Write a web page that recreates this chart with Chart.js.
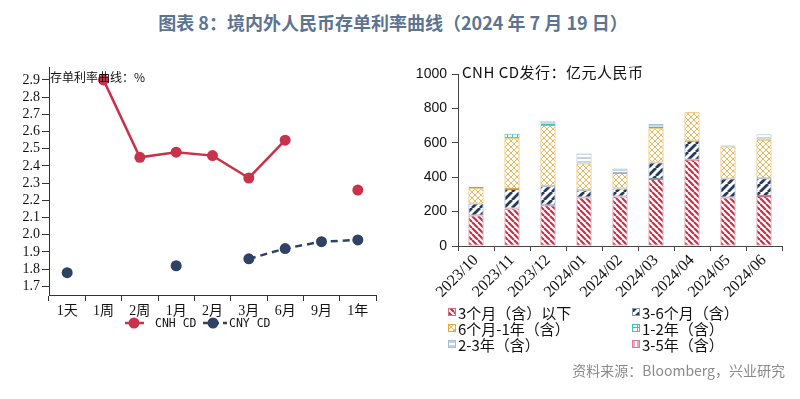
<!DOCTYPE html>
<html><head><meta charset="utf-8">
<script src="https://cdn.jsdelivr.net/npm/chart.js@4.4.1/dist/chart.umd.min.js"></script>
<style>
html,body{margin:0;padding:0;background:#fff;width:800px;height:399px;overflow:hidden;position:relative;}
#title{position:absolute;left:0;top:9px;width:786px;text-align:center;font:bold 18px "Noto Sans CJK SC";color:#5d7392;white-space:nowrap;}
#c1{position:absolute;left:0;top:0;}
#c2{position:absolute;left:400px;top:0;}
.note{position:absolute;white-space:nowrap;color:#111;font-family:"Noto Sans CJK SC";line-height:1;}
</style></head><body>
<div id="title">图表 8：境内外人民币存单利率曲线（2024 年 7 月 19 日）</div>
<canvas id="c1" width="400" height="340"></canvas>
<canvas id="c2" width="400" height="399"></canvas>
<div class="note" style="left:50px;top:71px;font-size:12px;">存单利率曲线：%</div>
<div class="note" style="left:462px;top:64px;font-size:15px;letter-spacing:0.5px;">CNH CD发行：亿元人民币</div>
<div class="note" style="right:15px;top:363px;font-size:14px;color:#8a8a8a;">资料来源：Bloomberg，兴业研究</div>
<script>
// ---- Left chart data ----
const tenors = ['1天','1周','2周','1月','2月','3月','6月','9月','1年'];
const cnhCD = [null, 2.90, 2.45, 2.48, 2.46, 2.33, 2.55, null, 2.26];
const cnyCD = [1.78, null, null, 1.82, null, 1.86, 1.92, 1.96, 1.97];
const rateTicks = [1.7,1.8,1.9,2.0,2.1,2.2,2.3,2.4,2.5,2.6,2.7,2.8,2.9];
const lineNames = ['CNH CD','CNY CD'];

// ---- Right chart data ----
const months = ['2023/10','2023/11','2023/12','2024/01','2024/02','2024/03','2024/04','2024/05','2024/06'];
const le3m   = [178, 218, 237, 282, 288, 390, 502, 282, 290];
const m3to6  = [69, 114, 110, 42, 46, 96, 110, 110, 104];
const m6to1y = [89, 295, 356, 156, 91, 199, 166, 187, 224];
const y1to2  = [9, 25, 8, null, null, 10, null, 6, null];
const y2to3  = [null, null, 15, 58, 25, 15, null, null, 31];
const y3to5  = [null, null, null, null, null, null, null, null, null];
const issueTicks = [0,200,400,600,800,1000];
const barNames = ['3个月（含）以下','3-6个月（含）','6个月-1年（含）','1-2年（含）','2-3年（含）','3-5年（含）'];

const RED='#c8334b', NAVY='#2e4266';

// patterns
const tmp = document.createElement('canvas').getContext('2d');
function tile(size, draw){
  const c=document.createElement('canvas'); c.width=c.height=size;
  const x=c.getContext('2d'); x.fillStyle='#fff'; x.fillRect(0,0,size,size);
  draw(x,size); return tmp.createPattern(c,'repeat');
}
function stripes(color,size,lw,dir){
  return tile(size,(x,s)=>{x.strokeStyle=color;x.lineWidth=lw;x.beginPath();
    for(const k of [-s,0,s]){ if(dir==='\\'){x.moveTo(k,0);x.lineTo(k+s,s);} else {x.moveTo(k,s);x.lineTo(k+s,0);} }
    x.stroke();});
}
function cross(color,size,lw){
  return tile(size,(x,s)=>{x.strokeStyle=color;x.lineWidth=lw;x.beginPath();
    for(const k of [-s,0,s]){x.moveTo(k,0);x.lineTo(k+s,s);x.moveTo(k,s);x.lineTo(k+s,0);} x.stroke();});
}
function grid(color,size,lw){
  return tile(size,(x,s)=>{x.strokeStyle=color;x.lineWidth=lw;x.beginPath();
    x.moveTo(0,s/2);x.lineTo(s,s/2);x.moveTo(s/2,0);x.lineTo(s/2,s);x.stroke();});
}
function hlines(color,size,lw){
  return tile(size,(x,s)=>{x.strokeStyle=color;x.lineWidth=lw;x.beginPath();x.moveTo(0,s/2);x.lineTo(s,s/2);x.stroke();});
}
function vlines(color,size,lw){
  return tile(size,(x,s)=>{x.strokeStyle=color;x.lineWidth=lw;x.beginPath();x.moveTo(s/2,0);x.lineTo(s/2,s);x.stroke();});
}
const pats = [
  stripes('#c8304a',6,2.2,'\\'),
  stripes('#263a5c',8,2.8,'/'),
  cross('#e8b048',6,0.9),
  grid('#3cc4c0',5,1),
  hlines('#a8bcd8',4,1.3),
  vlines('#e07a9a',4,1.3)
];
const borders = ['#d86a7a','#8a9ab5','#e8a838','#3cc4c0','#a8bcd8','#e07a9a'];

// ---- Left chart ----
const legendLeft = {
  id:'legendLeft',
  afterDraw(chart){
    const c=chart.ctx; const y=323;
    const items=[{x1:125,x2:144,d:134,t:155,col:RED,dash:[]},{x1:203,x2:227,d:213,t:229,col:NAVY,dash:[6,4]}];
    items.forEach((it,i)=>{
      c.save(); c.strokeStyle=it.col; c.lineWidth=2.5; c.setLineDash(it.dash);
      c.beginPath(); c.moveTo(it.x1,y); c.lineTo(it.x2,y); c.stroke(); c.setLineDash([]);
      c.fillStyle=it.col; c.beginPath(); c.arc(it.d,y,5.5,0,Math.PI*2); c.fill();
      c.fillStyle='#111'; c.font='11.5px "DejaVu Sans Mono"'; c.textBaseline='middle'; c.textAlign='left';
      c.fillText(lineNames[i], it.t, y+1); c.restore();
    });
  }
};
new Chart(document.getElementById('c1'),{
  type:'line',
  data:{labels:tenors,datasets:[
    {label:lineNames[0],data:cnhCD,borderColor:RED,backgroundColor:RED,borderWidth:2.5,pointRadius:5.5,pointHoverRadius:5.5,pointBorderWidth:0,spanGaps:false},
    {label:lineNames[1],data:cnyCD,borderColor:NAVY,backgroundColor:NAVY,borderWidth:2.5,borderDash:[7,5],pointRadius:5.5,pointHoverRadius:5.5,pointBorderWidth:0,spanGaps:false}
  ]},
  options:{
    responsive:false,animation:false,
    layout:{padding:{left:0,right:24,top:67,bottom:20}},
    plugins:{legend:{display:false},tooltip:{enabled:false}},
    scales:{
      x:{offset:true,
        grid:{offset:true,drawOnChartArea:false,drawTicks:true,tickLength:6,color:'#333'},
        border:{display:true,color:'#333',width:1},
        ticks:{font:{family:'"Liberation Serif","Noto Sans CJK SC"',size:14},color:'#111',padding:2,maxRotation:0,autoSkip:false},
        afterFit(s){s.height=25;}
      },
      y:{min:1.65,max:2.975,
        afterBuildTicks(s){s.ticks=rateTicks.map(v=>({value:v}));},
        grid:{drawOnChartArea:false,drawTicks:true,tickLength:7,color:'#333'},
        border:{display:true,color:'#333',width:1},
        ticks:{font:{family:'"Liberation Serif"',size:14,lineHeight:1},color:'#111',padding:2,autoSkip:false,callback:v=>Number(v).toFixed(1)},
        afterFit(s){s.width=49;}
      }
    }
  },
  plugins:[legendLeft]
});

// ---- Right chart ----
const legendRight = {
  id:'legendRight',
  afterDraw(chart){
    const c=chart.ctx;
    const pos=[[48,312],[232,312],[48,328],[232,328],[48,344],[232,344]];
    barNames.forEach((n,i)=>{
      const [x,y]=pos[i];
      c.save(); c.fillStyle=pats[i]; c.fillRect(x,y-4,8,8);
      c.strokeStyle=borders[i]; c.lineWidth=1; c.strokeRect(x+0.5,y-3.5,7,7);
      c.fillStyle='#111'; c.font='15px "Noto Sans CJK SC"'; c.textBaseline='middle'; c.textAlign='left';
      c.fillText(n,x+10,y+1); c.restore();
    });
  }
};
const series=[le3m,m3to6,m6to1y,y1to2,y2to3,y3to5];
new Chart(document.getElementById('c2'),{
  type:'bar',
  data:{labels:months,datasets:series.map((d,i)=>({
    label:barNames[i],data:d,backgroundColor:pats[i],borderColor:borders[i],borderWidth:1,
    borderSkipped:false,barPercentage:0.42,categoryPercentage:1
  }))},
  options:{
    responsive:false,animation:false,
    layout:{padding:{left:0,right:18,top:74,bottom:93}},
    plugins:{legend:{display:false},tooltip:{enabled:false}},
    scales:{
      x:{stacked:true,
        grid:{offset:true,drawOnChartArea:false,drawTicks:true,tickLength:5,color:'#444'},
        border:{display:true,color:'#444',width:1},
        ticks:{font:{family:'"Liberation Serif"',size:16},color:'#111',minRotation:45,maxRotation:45,padding:0,autoSkip:false},
        afterFit(s){s.height=60;}
      },
      y:{stacked:true,min:0,max:1000,
        afterBuildTicks(s){s.ticks=issueTicks.map(v=>({value:v}));},
        grid:{drawOnChartArea:false,drawTicks:true,tickLength:6,color:'#444'},
        border:{display:true,color:'#444',width:1},
        ticks:{font:{family:'"Liberation Sans"',size:14},color:'#111',padding:5,callback:v=>String(v)},
        afterFit(s){s.width=58;}
      }
    }
  },
  plugins:[legendRight]
});
</script>
</body></html>
